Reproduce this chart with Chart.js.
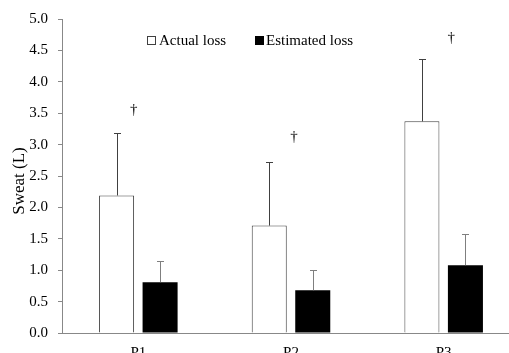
<!DOCTYPE html>
<html>
<head>
<meta charset="utf-8">
<script src="https://cdn.jsdelivr.net/npm/chart.js@4"></script>
<style>
  html, body { margin: 0; padding: 0; background: #fff; overflow: hidden; }
</style>
</head>
<body>
<canvas id="myChart" width="521" height="365"></canvas>
<script>
// data
let categories = ['P1', 'P2', 'P3']
let actualLoss = [2.19, 1.71, 3.37]
let actualErr = [0.99, 1.01, 1.00]
let estimatedLoss = [0.81, 0.68, 1.08]
let estimatedErr = [0.33, 0.33, 0.49]
let daggerX = [-0.03, 1.02, 2.05]      // category units
let daggerY = [3.55, 3.12, 4.69]
let yTicks = [0, 0.5, 1, 1.5, 2, 2.5, 3, 3.5, 4, 4.5, 5]
let yTitle = 'Sweat (L)'

const serif = "'Liberation Serif', 'Times New Roman', serif"

const errorBars = {
    id: 'errorBars',
    afterDatasetsDraw(chart) {
        const ctx = chart.ctx
        const y = chart.scales.y
        chart.data.datasets.forEach((ds, i) => {
            const meta = chart.getDatasetMeta(i)
            meta.data.forEach((bar, j) => {
                const top = Math.round(y.getPixelForValue(ds.data[j] + ds.errors[j])) + 0.5
                const x = Math.round(bar.x) + 0.5
                ctx.save()
                ctx.strokeStyle = ds.errorColor
                ctx.lineWidth = 1
                ctx.beginPath()
                ctx.moveTo(x, bar.y)
                ctx.lineTo(x, top)
                ctx.moveTo(x - 3.5, top)
                ctx.lineTo(x + 3.5, top)
                ctx.stroke()
                ctx.restore()
            })
        })
    }
}

const extras = {
    id: 'extras',
    afterDraw(chart) {
        const ctx = chart.ctx
        const xs = chart.scales.x
        const ys = chart.scales.y
        ctx.save()
        // daggers
        ctx.fillStyle = '#000'
        ctx.font = '15px ' + serif
        ctx.textAlign = 'center'
        ctx.textBaseline = 'middle'
        for (let i = 0; i < daggerX.length; i++) {
            ctx.fillText('\u2020', xs.getPixelForValue(daggerX[i]), ys.getPixelForValue(daggerY[i]))
        }
        // legend
        ctx.textAlign = 'left'
        ctx.fillStyle = '#fff'
        ctx.fillRect(147.5, 36.5, 8, 8)
        ctx.strokeStyle = '#404040'
        ctx.lineWidth = 1
        ctx.strokeRect(147.5, 36.5, 8, 8)
        ctx.fillStyle = '#000'
        ctx.fillRect(255, 36, 9, 9)
        ctx.fillText(chart.data.datasets[0].label, 159, 41)
        ctx.fillText(chart.data.datasets[1].label, 266, 41)
        // y axis title
        ctx.translate(19.5, 181)
        ctx.rotate(-Math.PI / 2)
        ctx.textAlign = 'center'
        ctx.font = '17px ' + serif
        ctx.fillText(yTitle, 0, 0)
        ctx.restore()
    }
}

let chart = new Chart(document.getElementById('myChart'), {
    type: 'bar',
    data: {
        labels: categories,
        datasets: [{
            label: 'Actual loss',
            data: actualLoss,
            errors: actualErr,
            errorColor: '#404040',
            backgroundColor: '#ffffff',
            borderColor: '#404040',
            borderWidth: 1
        }, {
            label: 'Estimated loss',
            data: estimatedLoss,
            errors: estimatedErr,
            errorColor: '#7f7f7f',
            backgroundColor: '#000000',
            borderColor: '#000000',
            borderWidth: 0
        }]
    },
    options: {
        responsive: false,
        animation: false,
        devicePixelRatio: 1,
        categoryPercentage: 0.57,
        barPercentage: 0.805,
        layout: { padding: { top: 17, left: 0, right: 1, bottom: 0 } },
        plugins: {
            legend: { display: false },
            tooltip: { enabled: false }
        },
        scales: {
            x: {
                grid: { drawOnChartArea: false, drawTicks: false },
                border: { color: '#888888', width: 1 },
                ticks: { color: '#000', font: { family: serif, size: 15 }, padding: 11 },
                afterFit: s => { s.height = 32 }
            },
            y: {
                min: 0,
                max: 5,
                afterBuildTicks: s => { s.ticks = yTicks.map(v => ({ value: v })) },
                grid: { drawOnChartArea: false, drawTicks: true, tickLength: 4, tickColor: '#888888' },
                border: { color: '#888888', width: 1 },
                ticks: {
                    color: '#000',
                    font: { family: serif, size: 15 },
                    padding: 10,
                    callback: v => Number(v).toFixed(1)
                },
                afterFit: s => { s.width = 62 }
            }
        }
    },
    plugins: [errorBars, extras]
})
</script>
</body>
</html>
